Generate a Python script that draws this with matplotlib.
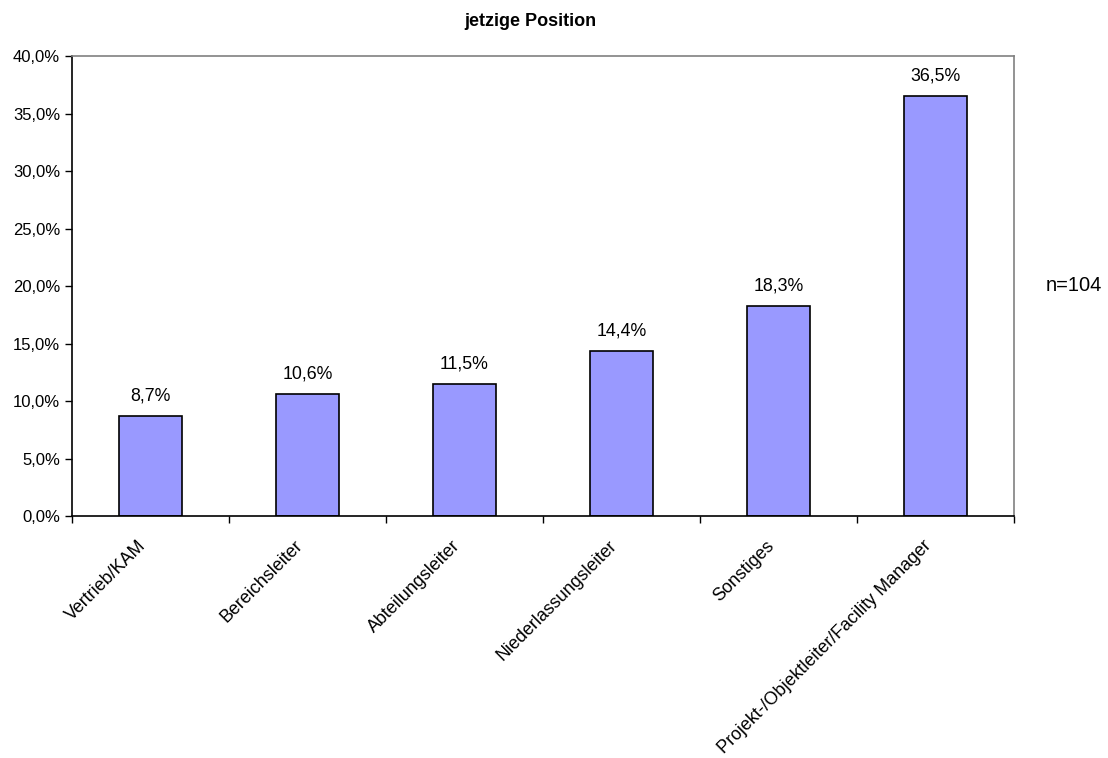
import numpy as np
import matplotlib.pyplot as plt
import matplotlib.transforms as mtransforms
from matplotlib.ticker import FixedLocator, FuncFormatter

plt.rcParams['font.family'] = ['Liberation Sans', 'DejaVu Sans']

positions = ['Vertrieb/KAM', 'Bereichsleiter', 'Abteilungsleiter',
             'Niederlassungsleiter', 'Sonstiges',
             'Projekt-/Objektleiter/Facility Manager']
shares = [8.7, 10.6, 11.5, 14.4, 18.3, 36.5]
n_total = 104

fig = plt.figure(figsize=(11.08, 7.58), dpi=100)
ax = fig.add_axes([0.065, 0.319, 0.85, 0.607])

x = np.arange(len(positions))
ax.bar(x, shares, width=0.4, color='#9999FF', edgecolor='black', linewidth=1.2)

for xi, v in zip(x, shares):
    ax.text(xi, v + 1.0, f'{v:.1f}%'.replace('.', ','), ha='center', va='bottom', fontsize=12.8)

ax.set_xlim(-0.5, len(positions) - 0.5)
ax.set_ylim(0, 40)
ax.set_yticks(np.arange(0, 41, 5))
ax.yaxis.set_major_formatter(FuncFormatter(lambda v, p: f'{v:.1f}%'.replace('.', ',')))

# labels at the bar centres, tick marks between categories
ax.set_xticks(x)
ax.set_xticklabels(positions, rotation=45, ha='right', rotation_mode='anchor', fontsize=12.9)
ax.tick_params(axis='x', which='major', length=0, pad=8)
shift = mtransforms.ScaledTranslation(-0.13, -0.10, fig.dpi_scale_trans)
for lbl in ax.get_xticklabels():
    lbl.set_transform(lbl.get_transform() + shift)
ax.xaxis.set_minor_locator(FixedLocator(np.arange(-0.5, len(positions), 1.0)))
ax.tick_params(axis='x', which='minor', length=5, direction='out', width=1)
ax.tick_params(axis='y', length=5, direction='out', width=1, labelsize=12)

for side in ('top', 'right'):
    ax.spines[side].set_color('#808080')
    ax.spines[side].set_linewidth(1.2)
for side in ('left', 'bottom'):
    ax.spines[side].set_color('black')
    ax.spines[side].set_linewidth(1.2)

fig.text(0.479, 0.971, 'jetzige Position', ha='center', va='center', fontsize=13, fontweight='bold')
fig.text(0.944, 0.623, f'n={n_total}', ha='left', va='center', fontsize=14.5)

fig.savefig('out.png', dpi=100)
